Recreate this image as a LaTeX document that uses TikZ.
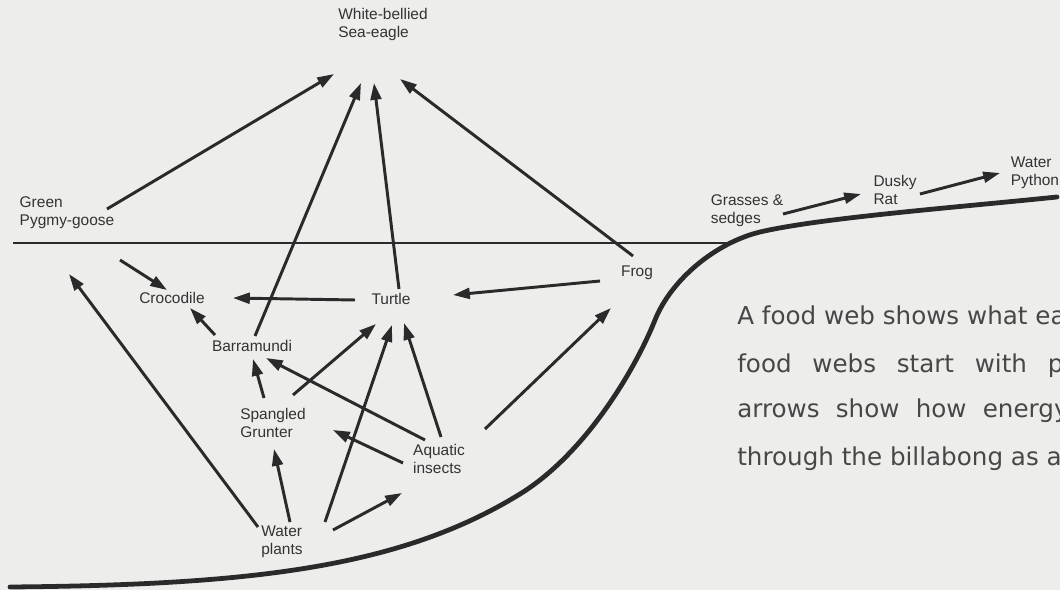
\documentclass[tikz,border=0pt]{standalone}
\usepackage{fontspec}
\setmainfont{Liberation Sans}
\newfontfamily\handfont{DejaVu Sans}
\usepackage{tikz}
\usetikzlibrary{arrows.meta,calc}
\usepackage{xcolor}
\definecolor{ink}{HTML}{2A2A2A}
\definecolor{labelgray}{HTML}{333333}
\definecolor{pencil}{HTML}{474747}
\definecolor{paper}{HTML}{EDEDEB}

\begin{document}
\begin{tikzpicture}[x=0.025cm, y=-0.025cm,
  animal/.style={text=labelgray, font=\fontsize{11}{12.8}\selectfont,
                 align=left, inner sep=0pt},
  feeds/.style={-{Triangle[length=0.42cm,width=0.27cm]}, line width=2.1pt, ink},
  shore/.style={line width=3.4pt, ink, line cap=round},
  water/.style={line width=1.6pt, ink},
  note/.style={text=pencil, font=\handfont\fontsize{17.5}{20}\selectfont,
               anchor=base west, inner sep=0pt}]
  \fill[paper] (0,0) rectangle (1060,590);
  \clip (0,0) rectangle (1060,590);
  % billabong: water surface and bank
  \draw[water] (13,243) -- (727,243);
  \draw[shore] (10,587) .. controls (250,585) and (400,568) .. (520,494)
    .. controls (585,454) and (635,370) .. (655,320)
    .. controls (671,280) and (715,243) .. (760,232)
    .. controls (820,218) and (950,208) .. (1057,197);
  % who eats whom
  \node[animal] (eagle) at (383,25) {White-bellied\\Sea-eagle};
  \node[animal] (goose) at (67,213) {Green\\Pygmy-goose};
  \node[animal] (croc) at (172,298) {Crocodile};
  \node[animal] (turtle) at (391,299) {Turtle};
  \node[animal] (frog) at (637,273) {Frog};
  \node[animal] (barra) at (252,346) {Barramundi};
  \node[animal] (grunter) at (273,423) {Spangled\\Grunter};
  \node[animal] (insects) at (439,459) {Aquatic\\insects};
  \node[animal] (plants) at (282,542) {Water\\plants};
  \node[animal] (grass) at (747,211) {Grasses \&\\sedges};
  \node[animal] (rat) at (895,190) {Dusky\\Rat};
  \node[animal] (python) at (1035,173) {Water\\Python};
  \draw[feeds] ($(goose)+(40,-4)$) -- ($(eagle)+(-49,49)$);
  \draw[feeds] ($(barra)+(3,-10)$) -- ($(eagle)+(-22,58)$);
  \draw[feeds] ($(turtle)+(8,-10)$) -- ($(eagle)+(-9,58)$);
  \draw[feeds] ($(frog)+(-4,-17)$) -- ($(eagle)+(17,54)$);
  \draw[feeds] ($(plants)+(-24,-15)$) -- ($(goose)+(2,61)$);
  \draw[feeds] ($(goose)+(53,47)$) -- ($(croc)+(-5,-8)$);
  \draw[feeds] ($(turtle)+(-36,1)$) -- ($(croc)+(61,0)$);
  \draw[feeds] ($(barra)+(-37,-11)$) -- ($(croc)+(18,10)$);
  \draw[feeds] ($(frog)+(-37,8)$) -- ($(turtle)+(62,-4)$);
  \draw[feeds] ($(grunter)+(-9,-25)$) -- ($(barra)+(1,13)$);
  \draw[feeds] ($(grunter)+(20,-28)$) -- ($(turtle)+(-15,25)$);
  \draw[feeds] ($(insects)+(-14,-19)$) -- ($(barra)+(14,12)$);
  \draw[feeds] ($(insects)+(-36,4)$) -- ($(grunter)+(60,7)$);
  \draw[feeds] ($(insects)+(2,-22)$) -- ($(turtle)+(13,24)$);
  \draw[feeds] ($(plants)+(43,-20)$) -- ($(turtle)+(1,26)$);
  \draw[feeds] ($(plants)+(8,-20)$) -- ($(grunter)+(1,26)$);
  \draw[feeds] ($(plants)+(51,-12)$) -- ($(insects)+(-37,34)$);
  \draw[feeds] ($(insects)+(46,-30)$) -- ($(frog)+(-26,35)$);
  \draw[feeds] ($(grass)+(36,3)$) -- ($(rat)+(-34,4)$);
  \draw[feeds] ($(rat)+(25,4)$) -- ($(python)+(-35,0)$);
  % caption, running off the right edge
  \node[note] (line1) at (737,325) {A food web shows what ea};
  \node[note] (line2) at (737,372) {\makebox[8.15cm][s]{food webs start with p}};
  \node[note] (line3) at (737,418) {\makebox[8.28cm][s]{arrows show how energy}};
  \node[note] (line4) at (737,465) {through the billabong as a};
\end{tikzpicture}
\end{document}
